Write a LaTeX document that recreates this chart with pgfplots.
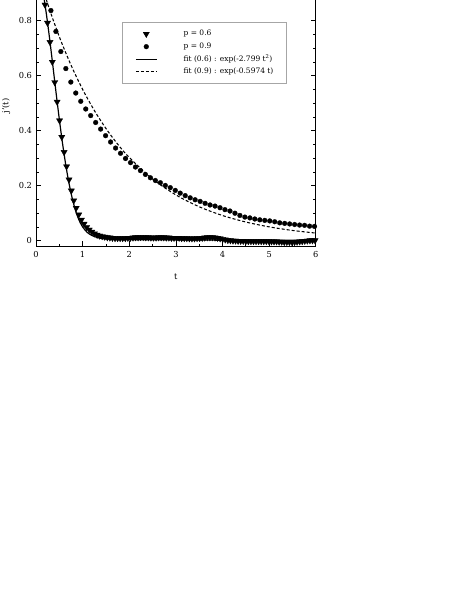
\documentclass[border=0pt]{standalone}
\usepackage{fontspec}
\setmainfont{DejaVu Serif}
\usepackage{pgfplots}
\pgfplotsset{compat=1.18}
\pgfplotsset{
    legmark/.style={legend image code/.code={\draw[mark repeat=2,mark phase=2,##1] plot coordinates {(0pt,0pt) (14pt,0pt) (28pt,0pt)};}},
    legline/.style={legend image code/.code={\draw[##1] (0pt,0pt) -- (28pt,0pt);}},
}

% p = 0.6 (triangles)
\pgfplotstableread{
t v
0.193 0.858
0.247 0.792
0.300 0.722
0.350 0.650
0.402 0.576
0.453 0.505
0.505 0.437
0.553 0.377
0.603 0.322
0.656 0.270
0.708 0.222
0.758 0.182
0.810 0.146
0.862 0.119
0.918 0.095
0.974 0.076
1.030 0.061
1.086 0.049
1.142 0.040
1.198 0.032
1.254 0.026
1.310 0.021
1.366 0.018
1.420 0.016
1.475 0.014
1.530 0.012
1.585 0.011
1.640 0.010
1.695 0.009
1.750 0.009
1.805 0.009
1.860 0.009
1.915 0.009
1.970 0.010
2.025 0.010
2.080 0.011
2.135 0.012
2.190 0.012
2.245 0.013
2.300 0.013
2.355 0.012
2.410 0.012
2.465 0.011
2.520 0.011
2.575 0.011
2.630 0.012
2.685 0.012
2.740 0.012
2.795 0.011
2.850 0.011
2.905 0.010
2.960 0.010
3.015 0.010
3.070 0.010
3.125 0.009
3.180 0.009
3.235 0.009
3.290 0.008
3.345 0.008
3.400 0.008
3.455 0.009
3.510 0.009
3.565 0.010
3.620 0.011
3.675 0.012
3.730 0.012
3.785 0.012
3.840 0.011
3.895 0.010
3.950 0.008
4.005 0.006
4.060 0.004
4.115 0.002
4.170 0.001
4.225 0.000
4.280 0.000
4.335 -0.001
4.390 -0.001
4.445 -0.001
4.500 -0.002
4.555 -0.002
4.610 -0.002
4.665 -0.002
4.720 -0.002
4.775 -0.002
4.830 -0.002
4.885 -0.002
4.940 -0.002
4.995 -0.002
5.050 -0.003
5.105 -0.003
5.160 -0.003
5.215 -0.004
5.270 -0.004
5.325 -0.005
5.380 -0.005
5.435 -0.005
5.490 -0.005
5.545 -0.005
5.600 -0.004
5.655 -0.003
5.710 -0.002
5.765 -0.001
5.820 0.000
5.875 0.001
5.930 0.001
5.985 0.001
}\pA

% p = 0.9 (circles)
\pgfplotstableread{
t v
0.000 1.000
0.107 0.945
0.213 0.890
0.320 0.837
0.427 0.761
0.533 0.688
0.640 0.626
0.747 0.577
0.853 0.537
0.960 0.507
1.067 0.479
1.173 0.455
1.280 0.430
1.387 0.406
1.493 0.382
1.600 0.359
1.707 0.337
1.813 0.318
1.920 0.299
2.027 0.284
2.133 0.268
2.240 0.255
2.347 0.241
2.453 0.229
2.560 0.219
2.667 0.211
2.773 0.201
2.880 0.193
2.987 0.183
3.093 0.173
3.200 0.164
3.307 0.156
3.413 0.149
3.520 0.143
3.627 0.136
3.733 0.130
3.840 0.126
3.947 0.120
4.053 0.113
4.160 0.108
4.267 0.100
4.373 0.092
4.480 0.086
4.587 0.083
4.693 0.079
4.800 0.076
4.907 0.074
5.013 0.072
5.120 0.069
5.227 0.065
5.333 0.063
5.440 0.061
5.547 0.059
5.653 0.057
5.760 0.056
5.867 0.053
5.973 0.052
}\pB

% fit (0.6), as drawn
\pgfplotstableread{
t v
0.00 0.9955
0.05 0.9776
0.10 0.9466
0.15 0.9039
0.20 0.8511
0.25 0.7902
0.30 0.7236
0.35 0.6533
0.40 0.5817
0.45 0.5106
0.50 0.4421
0.55 0.3775
0.60 0.3177
0.65 0.2638
0.70 0.2159
0.75 0.1743
0.80 0.1388
0.85 0.1089
0.90 0.0843
0.95 0.0650
1.00 0.0500
1.10 0.0300
1.20 0.0190
1.30 0.0125
1.40 0.0085
1.50 0.0065
1.60 0.0055
1.80 0.0045
2.00 0.0040
3.00 0.0030
4.00 0.0020
6.00 0.0015
}\fA

% fit (0.9)
\pgfplotstableread{
t v
0.00 1.0000
0.25 0.8613
0.50 0.7418
0.75 0.6389
1.00 0.5503
1.25 0.4739
1.50 0.4082
1.75 0.3515
2.00 0.3028
2.50 0.2246
3.00 0.1666
3.50 0.1236
4.00 0.0917
4.50 0.0680
5.00 0.0504
5.50 0.0374
6.00 0.0278
}\fB

\begin{document}
\begin{tikzpicture}
\path[use as bounding box] (-48pt,-463.7pt) rectangle (564pt,328.3pt);
\begin{axis}[
    at={(0pt,0pt)}, anchor=south west,
    scale only axis, width=373pt, height=374pt,
    xmin=0, xmax=6, ymin=-0.02, ymax=1,
    xtick={0,1,2,3,4,5,6},
    ytick={0,0.2,0.4,0.6,0.8},
    extra y ticks={1}, extra y tick labels={},
    minor x tick num=1, minor y tick num=3,
    tick align=inside,
    major tick length=6.7pt, minor tick length=3.6pt,
    axis line style={line width=1.2pt},
    every tick/.append style={line width=0.9pt, black},
    /pgf/number format/assume math mode=true,
    tick label style={font=\fontsize{11}{13}\selectfont},
    xticklabel style={anchor=base, yshift=-15.5pt},
    yticklabel style={anchor=east, inner sep=0pt, xshift=-5.3pt},
    xlabel={t}, ylabel={j'(t)},
    label style={font=\fontsize{11}{13}\selectfont},
    xlabel style={at={(axis description cs:0.5,-0.11)}, anchor=center},
    ylabel style={at={(axis description cs:-0.107,0.5)}, anchor=center},
    legend cell align=left,
    legend style={
        at={(axis description cs:0.3075,0.7995)}, anchor=north west,
        draw=gray!70, line width=1.1pt,
        inner xsep=17pt, inner ysep=11pt, row sep=7.6pt,
        nodes={inner sep=0pt, text height=7pt, text depth=2pt},
        font=\fontsize{10}{12}\selectfont,
        /tikz/every odd column/.append style={column sep=35pt},
    },
]
\addplot[only marks, mark=triangle*, mark size=4.8pt, black,
    mark options={rotate=180, line width=0.4pt}, legmark]
    table[x=t, y=v] {\pA};
\addlegendentry{p = 0.6}
\addplot[only marks, mark=*, mark size=3.2pt, black,
    mark options={line width=0.4pt}, legmark]
    table[x=t, y=v] {\pB};
\addlegendentry{p = 0.9}
\addplot[black, line width=1.6pt, smooth, mark=none, legline]
    table[x=t, y=v] {\fA};
\addlegendentry{fit (0.6) : exp(-2.799 t\textsuperscript{2})}
\addplot[black, line width=1.4pt, smooth, mark=none, dash pattern=on 4pt off 2.7pt, legline]
    table[x=t, y=v] {\fB};
\addlegendentry{fit (0.9) : exp(-0.5974 t)}
\end{axis}
\end{tikzpicture}
\end{document}
